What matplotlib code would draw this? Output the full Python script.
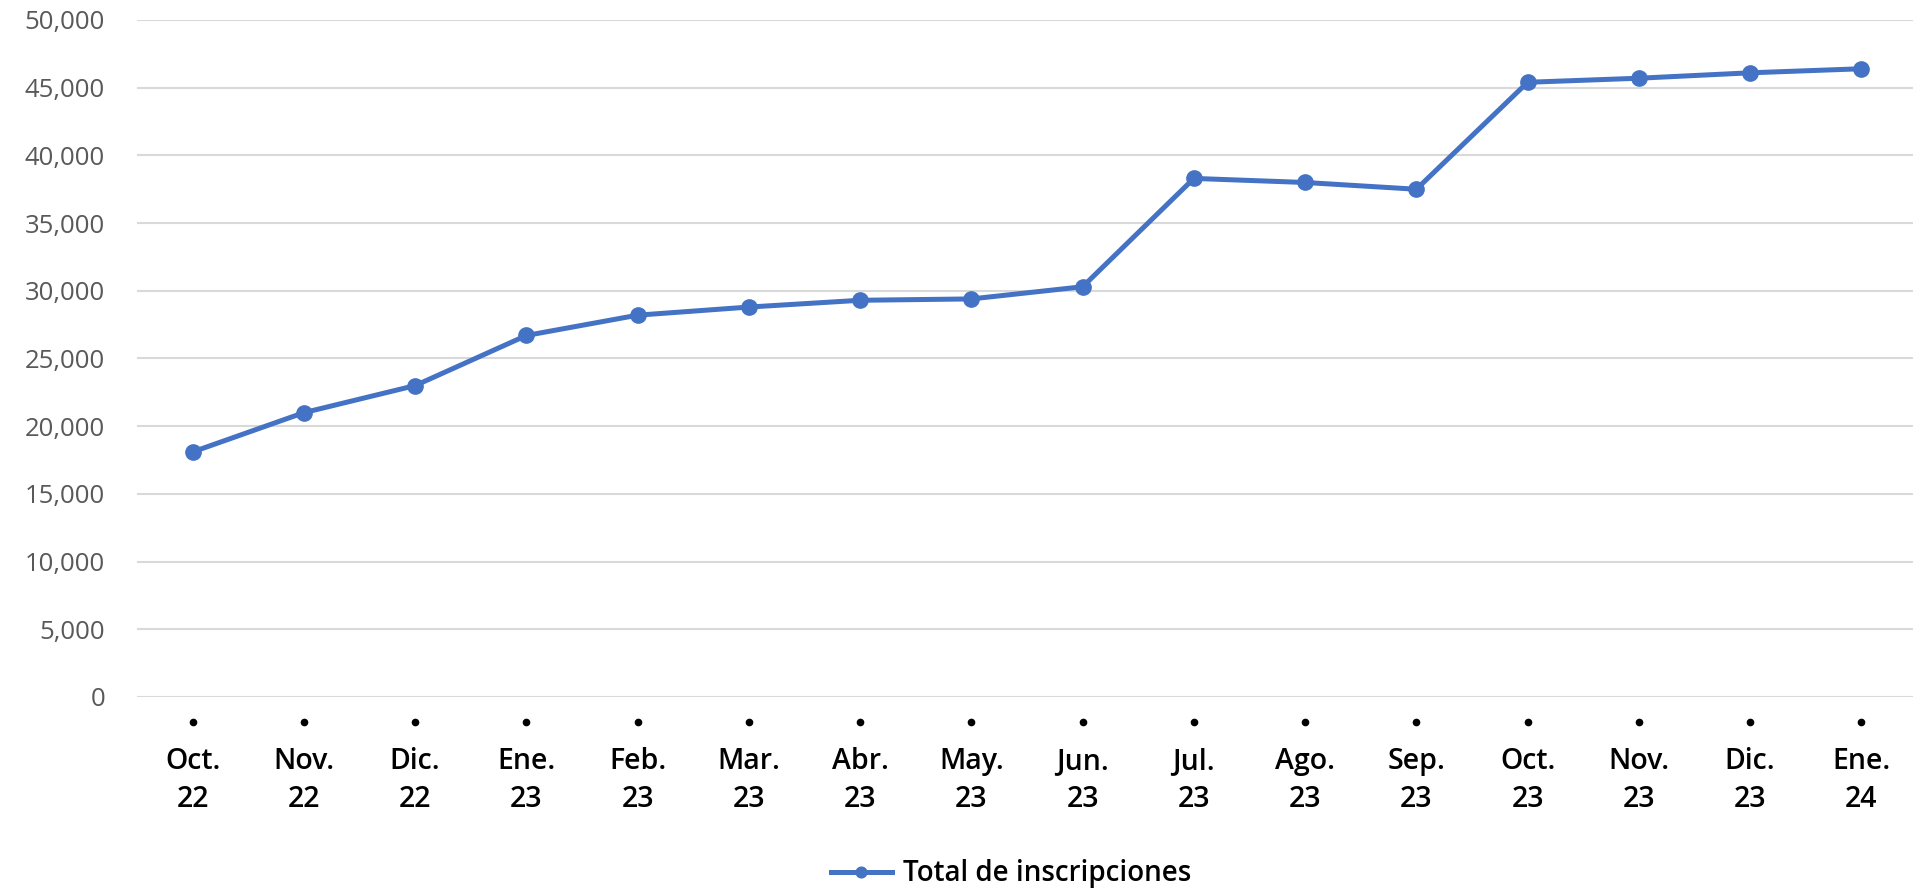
import matplotlib.pyplot as plt
from matplotlib.ticker import FuncFormatter
import matplotlib.transforms as mtransforms

plt.rcParams['font.family'] = ['Open Sans', 'DejaVu Sans']

# inscripciones acumuladas por mes
meses = ['Oct.\n22', 'Nov.\n22', 'Dic.\n22', 'Ene.\n23', 'Feb.\n23', 'Mar.\n23',
         'Abr.\n23', 'May.\n23', 'Jun.\n23', 'Jul.\n23', 'Ago.\n23', 'Sep.\n23',
         'Oct.\n23', 'Nov.\n23', 'Dic.\n23', 'Ene.\n24']
total = [18100, 21000, 23000, 26700, 28200, 28800, 29300, 29400, 30300,
         38300, 38000, 37500, 45400, 45700, 46100, 46400]

azul = '#4472C4'

fig = plt.figure(figsize=(19.13, 8.90), dpi=100)
ax = fig.add_axes([137/1913, 193/890, 1780/1913, 677/890])

x = list(range(len(meses)))
ax.plot(x, total, color=azul, lw=3.6, marker='o', markersize=11,
        label='Total de inscripciones', zorder=3)

ax.set_xlim(-0.5, len(meses) - 0.5)
ax.set_ylim(0, 50000)
ax.set_yticks(range(0, 50001, 5000))
ax.yaxis.set_major_formatter(FuncFormatter(lambda v, p: f'{int(v):,}'))
ax.grid(axis='y', color='#d9d9d9', lw=1.5)
ax.set_axisbelow(True)
for s in ax.spines.values():
    s.set_visible(False)

ax.tick_params(axis='y', length=0, pad=23, labelsize=18.5, labelcolor='#595959')
ax.tick_params(axis='x', length=0, pad=36)
ax.set_xticks(x)
ax.set_xticklabels(meses, fontsize=20.5, fontweight='semibold', linespacing=1.4)

# puntitos encima de cada etiqueta
trans = mtransforms.blended_transform_factory(ax.transData, ax.transAxes)
ax.plot(x, [-0.037] * len(x), ls='none', marker='o', markersize=4.5,
        color='black', transform=trans, clip_on=False)

fig.legend(loc='center', bbox_to_anchor=(1011/1913, 0.018), frameon=False,
           prop={'size': 20, 'weight': 'semibold'}, handlelength=2.2,
           markerscale=0.7, handletextpad=0.4)

plt.savefig('out.png', dpi=100, facecolor='w')
